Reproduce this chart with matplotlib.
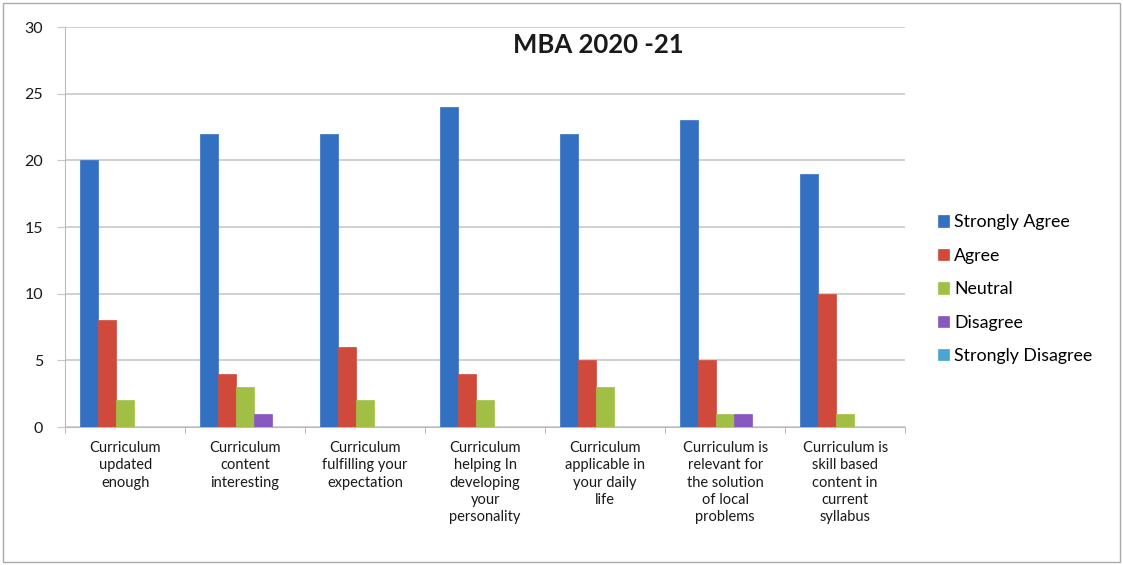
import numpy as np
import matplotlib.pyplot as plt
from matplotlib.patches import Rectangle

plt.rcParams['font.family'] = ['Lato', 'DejaVu Sans']

# Datos del grafico
categorias = [
    "Curriculum\nupdated\nenough",
    "Curriculum\ncontent\ninteresting",
    "Curriculum\nfulfilling your\nexpectation",
    "Curriculum\nhelping In\ndeveloping\nyour\npersonality",
    "Curriculum\napplicable in\nyour daily\nlife",
    "Curriculum is\nrelevant for\nthe solution\nof local\nproblems",
    "Curriculum is\nskill based\ncontent in\ncurrent\nsyllabus",
]
strongly_agree = [20, 22, 22, 24, 22, 23, 19]
agree = [8, 4, 6, 4, 5, 5, 10]
neutral = [2, 3, 2, 2, 3, 1, 1]
disagree = [0, 1, 0, 0, 0, 1, 0]
strongly_disagree = [0, 0, 0, 0, 0, 0, 0]

series = [
    ("Strongly Agree", strongly_agree, '#3470C2'),
    ("Agree", agree, '#D04A3C'),
    ("Neutral", neutral, '#A2BF45'),
    ("Disagree", disagree, '#8858BE'),
    ("Strongly Disagree", strongly_disagree, '#4AA6D0'),
]

fig = plt.figure(figsize=(11.23, 5.65), dpi=100)
ax = fig.add_axes([0.058, 0.244, 0.748, 0.708])

x = np.arange(len(categorias))
ancho = 0.15
for i, (nombre, valores, color) in enumerate(series):
    pos = x - 2 * ancho + i * ancho
    ax.bar(pos, valores, width=ancho, color=color, label=nombre,
           edgecolor=color, linewidth=0.5, zorder=3)

ax.set_xlim(-0.5, len(categorias) - 0.5)
ax.set_ylim(0, 30)
ax.set_yticks(range(0, 31, 5))
ax.grid(axis='y', color='#c8c8c8', linewidth=1.2, zorder=0)
ax.set_xticks(x)
ax.set_xticklabels(categorias, fontsize=10.5, color='#1a1a1a', linespacing=1.3)
ax.set_xticks(np.arange(-0.5, len(categorias)), minor=True)
ax.tick_params(axis='x', which='major', length=0, pad=10)
ax.tick_params(axis='x', which='minor', length=4, color='#aaaaaa')
ax.tick_params(axis='y', length=6, color='#c8c8c8', labelsize=11.5, pad=10, labelcolor='#1a1a1a')

for lado in ['top', 'right']:
    ax.spines[lado].set_visible(False)
ax.spines['left'].set_color('#bbbbbb')
ax.spines['bottom'].set_color('#bbbbbb')

ax.text(0.635, 0.955, "MBA 2020 -21", transform=ax.transAxes, ha='center', va='center',
        fontsize=18.5, fontweight='bold', color='#1a1a1a')

ax.legend(loc='center left', bbox_to_anchor=(1.02, 0.345), frameon=False,
          fontsize=12.8, handlelength=0.6, handleheight=0.6, handletextpad=0.3,
          labelspacing=0.98)

fig.patches.append(Rectangle((0.003, 0.005), 0.994, 0.99, transform=fig.transFigure,
                             fill=False, edgecolor='#aaaaaa', linewidth=1))

plt.savefig('out.png', dpi=100)
